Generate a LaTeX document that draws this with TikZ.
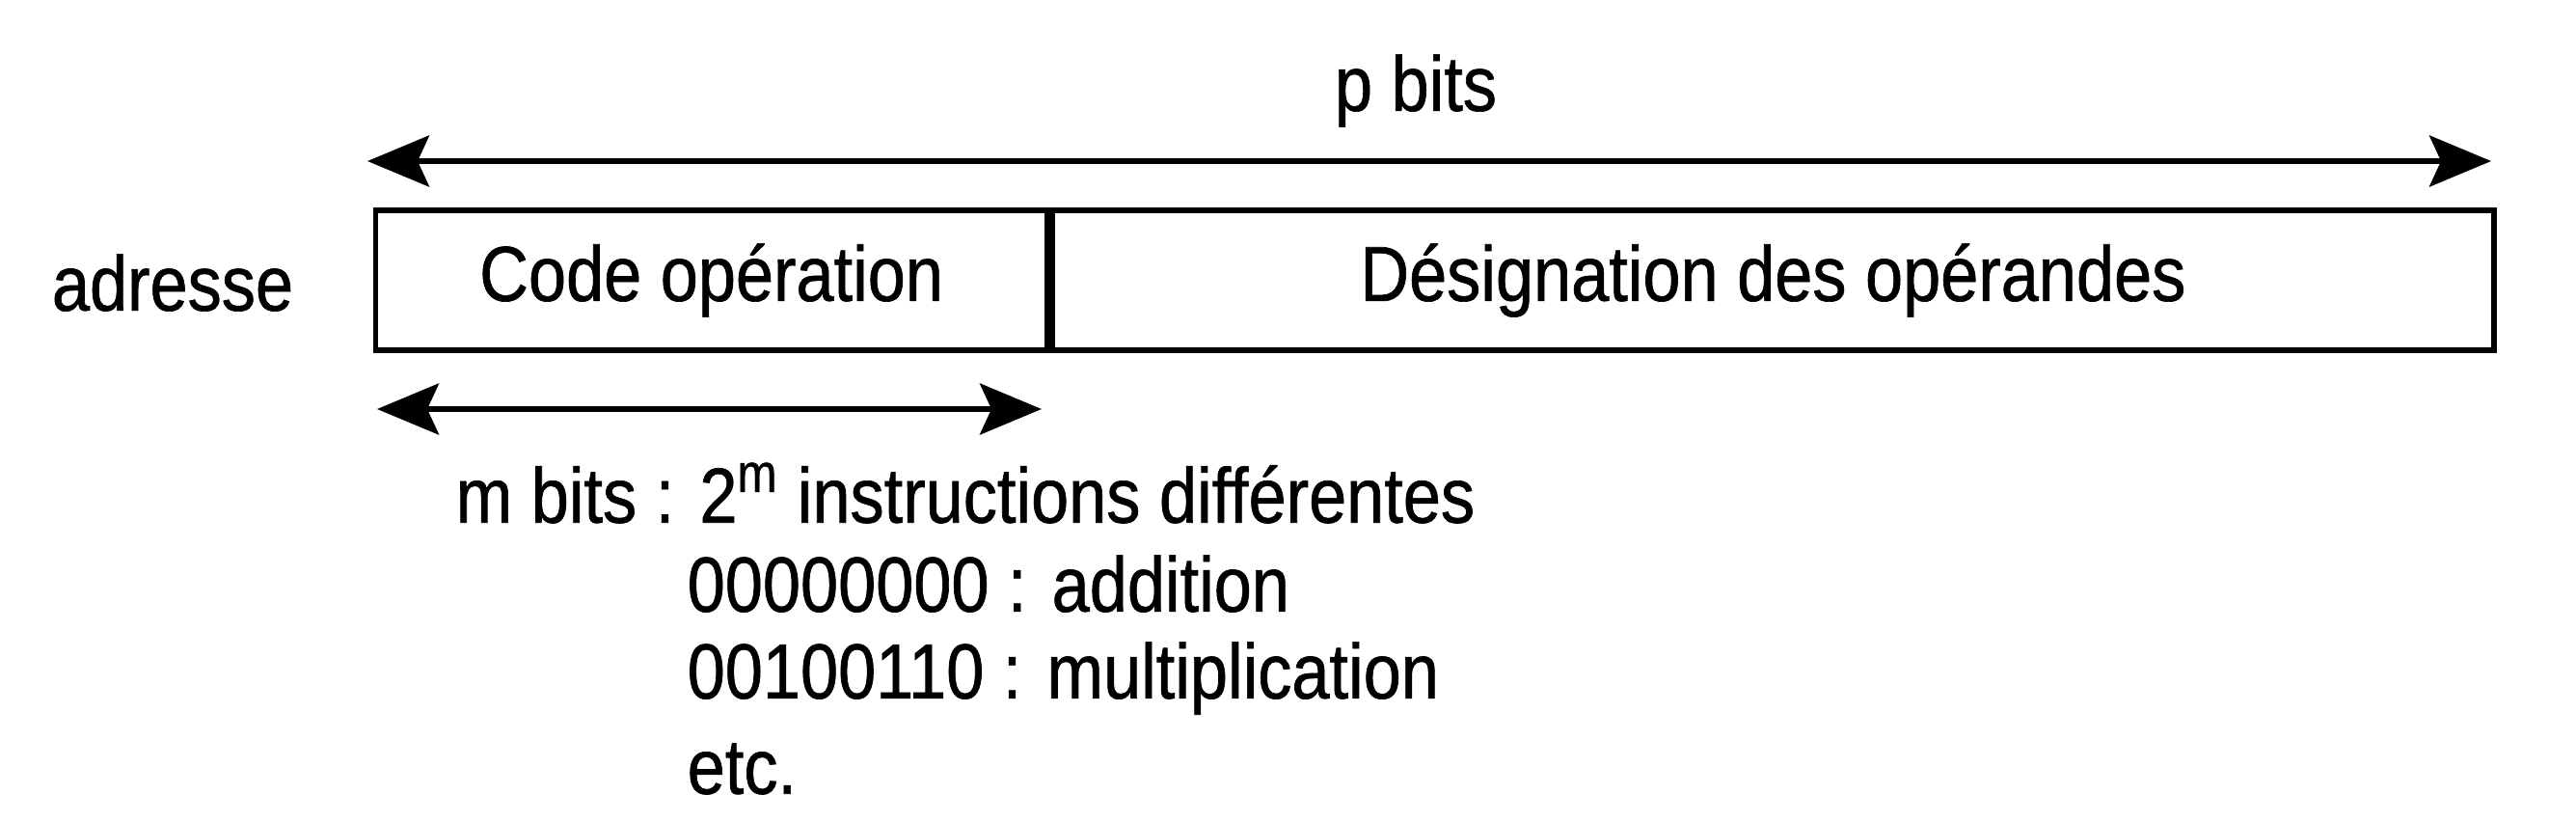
\documentclass[tikz,border=0pt]{standalone}
\usepackage{fontspec}
\setmainfont{Liberation Sans}[FakeStretch=0.87,FakeBold=0.8]
\usetikzlibrary{positioning,arrows.meta,calc}

\begin{document}
\begin{tikzpicture}[
    every node/.style={font=\fontsize{23}{28}\selectfont, inner sep=0pt},
    cell/.style={draw, line width=1.5pt, minimum height=14.5mm, anchor=west},
    dim/.style={{Stealth[length=6.4mm,width=5.3mm,inset=1.2mm]}-{Stealth[length=6.4mm,width=5.3mm,inset=1.2mm]}, line width=1.6pt},
    txt/.style={anchor=west, align=left}
  ]
  \useasboundingbox (0,0) rectangle (26.71,8.51);
  % instruction word
  \node[cell, minimum width=69.6mm] (opcode) at (3.87,5.605) {Code opération};
  \node[cell, minimum width=149.5mm, right=0pt of opcode] (operands) {Désignation des opérandes};
  \node (adr) at (1.79,5.58) {adresse};
  % widths
  \coordinate (pl) at (3.81,6.84);
  \coordinate (pr) at (25.83,6.84);
  \coordinate (ml) at (3.91,4.27);
  \coordinate (mr) at (10.80,4.27);
  \draw[dim] (pl) -- (pr);
  \node (pbits) at (14.68,7.57) {p bits};
  \draw[dim] (ml) -- (mr);
  % codes
  \node[txt] (mbits) at (4.72,3.40) {m bits : 2\textsuperscript{m} instructions différentes};
  \node[txt] (add) at (7.12,2.46) {00000000 : addition};
  \node[txt] (mul) at (7.12,1.48) {00100110 : multiplication};
  \node[txt] (etc) at (7.12,0.54) {etc.};
\end{tikzpicture}
\end{document}
